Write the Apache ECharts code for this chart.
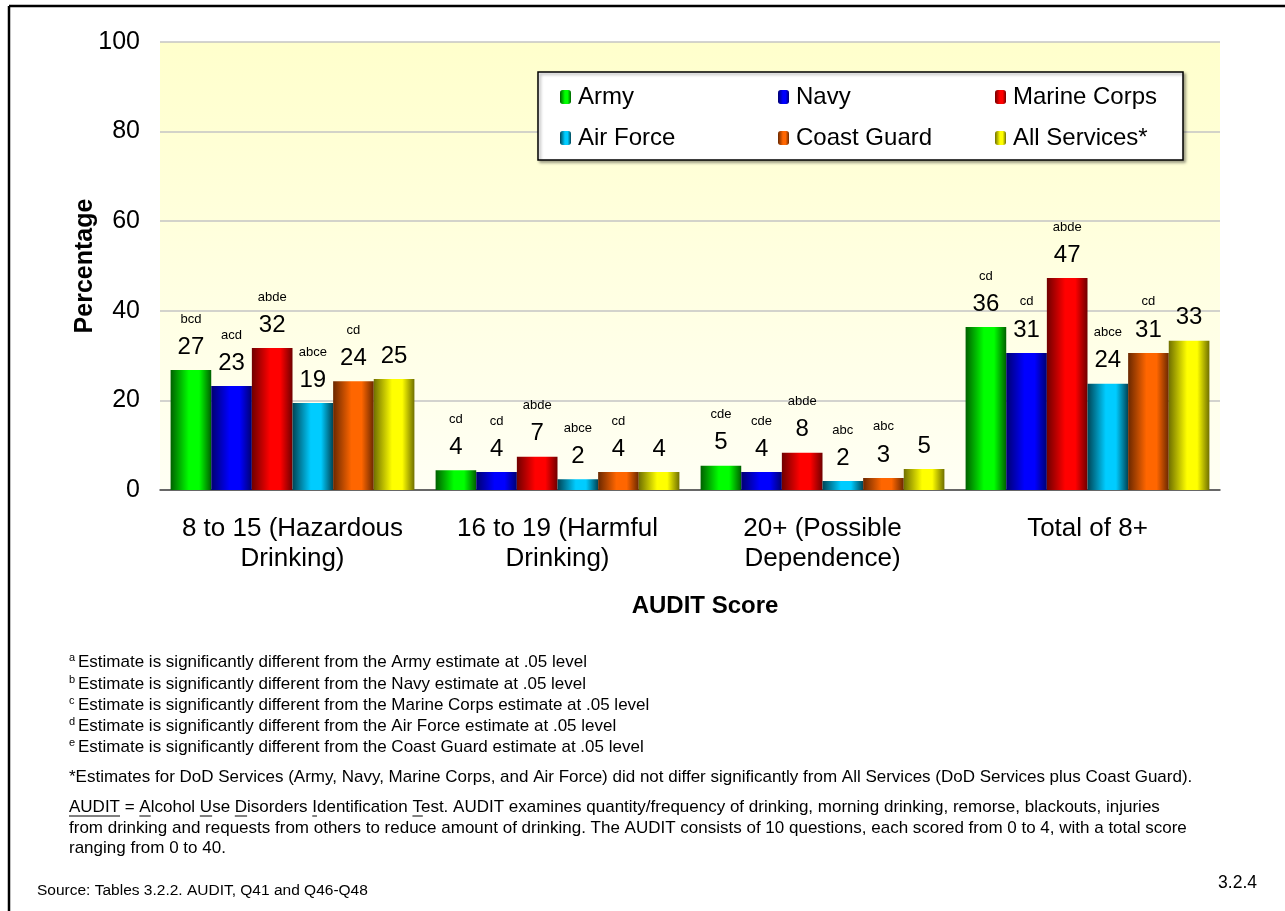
<!DOCTYPE html>
<html>
<head>
<meta charset="utf-8">
<script src="https://cdn.jsdelivr.net/npm/echarts@6/dist/echarts.min.js"></script>
<style>
  html, body { margin: 0; padding: 0; background: #fff; }
  #chart { width: 1285px; height: 911px; }
</style>
</head>
<body>
<div id="chart"></div>
<script>
// categories on the x axis
var categories = ['8 to 15 (Hazardous\nDrinking)', '16 to 19 (Harmful\nDrinking)', '20+ (Possible\nDependence)', 'Total of 8+']
var seriesNames = ['Army', 'Navy', 'Marine Corps', 'Air Force', 'Coast Guard', 'All Services*']

// percentages
var army = [26.8, 4.4, 5.4, 36.4]
var navy = [23.2, 4.0, 4.0, 30.6]
var marine = [31.7, 7.4, 8.3, 47.3]
var airForce = [19.4, 2.4, 2.0, 23.7]
var coastGuard = [24.3, 4.0, 2.7, 30.6]
var allServices = [24.8, 4.0, 4.7, 33.3]

// significance letters above each bar
var armyLetters = ['bcd', 'cd', 'cde', 'cd']
var navyLetters = ['acd', 'cd', 'cde', 'cd']
var marineLetters = ['abde', 'abde', 'abde', 'abde']
var airForceLetters = ['abce', 'abce', 'abc', 'abce']
var coastGuardLetters = ['cd', 'cd', 'abc', 'cd']
var allLetters = ['', '', '', '']

var yTicks = [0, 20, 40, 60, 80, 100]

var allValues = [army, navy, marine, airForce, coastGuard, allServices]
var allLetterSets = [armyLetters, navyLetters, marineLetters, airForceLetters, coastGuardLetters, allLetters]

// dark edge / bright centre of each bar
var palette = [
    ['#006000', '#00ff00'],
    ['#000070', '#0000ff'],
    ['#700000', '#ff0000'],
    ['#004455', '#00ccff'],
    ['#6a2800', '#ff6600'],
    ['#707000', '#ffff00']
]

var FONT = "'Liberation Sans', Arial, sans-serif"

function barFill(c) {
    return new echarts.graphic.LinearGradient(0, 0, 1, 0, [
        { offset: 0, color: c[0] },
        { offset: 0.45, color: c[1] },
        { offset: 0.7, color: c[1] },
        { offset: 1, color: c[0] }
    ])
}

var series = seriesNames.map(function (name, i) {
    return {
        name: name,
        type: 'bar',
        barGap: 0,
        barCategoryGap: '8%',
        data: allValues[i],
        itemStyle: { color: barFill(palette[i]) },
        label: {
            show: true,
            position: 'top',
            distance: 10,
            fontFamily: FONT,
            formatter: function (p) {
                var l = allLetterSets[i][p.dataIndex]
                var n = Math.round(p.value)
                return l ? '{s|' + l + '}\n{v|' + n + '}' : '{v|' + n + '}'
            },
            rich: {
                s: { fontSize: 13, lineHeight: 30, color: '#000', fontFamily: FONT },
                v: { fontSize: 24, lineHeight: 26, color: '#000', fontFamily: FONT }
            }
        }
    }
})

// legend laid out as a 3 x 2 table inside a boxed area
var legendCols = [560, 778, 995]
var legendRows = [85, 126]
var legends = seriesNames.map(function (name, i) {
    return {
        data: [name],
        left: legendCols[i % 3],
        top: legendRows[Math.floor(i / 3)],
        padding: 0,
        itemWidth: 11,
        itemHeight: 14,
        itemGap: 0,
        textStyle: { fontSize: 24, color: '#000', fontFamily: FONT, padding: [0, 0, 0, 2] },
        selectedMode: false
    }
})

// footnotes
var noteSize = 17
var notes = [
    { sup: 'a', y: 662, text: 'Estimate is significantly different from the Army estimate at .05 level' },
    { sup: 'b', y: 684, text: 'Estimate is significantly different from the Navy estimate at .05 level' },
    { sup: 'c', y: 705, text: 'Estimate is significantly different from the Marine Corps estimate at .05 level' },
    { sup: 'd', y: 726, text: 'Estimate is significantly different from the Air Force estimate at .05 level' },
    { sup: 'e', y: 747, text: 'Estimate is significantly different from the Coast Guard estimate at .05 level' }
]
var plainNotes = [
    { y: 777, text: '*Estimates for DoD Services (Army, Navy, Marine Corps, and Air Force) did not differ significantly from All Services (DoD Services plus Coast Guard).' },
    { y: 807, text: 'AUDIT = Alcohol Use Disorders Identification Test. AUDIT examines quantity/frequency of drinking, morning drinking, remorse, blackouts, injuries' },
    { y: 828, text: 'from drinking and requests from others to reduce amount of drinking. The AUDIT consists of 10 questions, each scored from 0 to 4, with a total score' },
    { y: 848, text: 'ranging from 0 to 40.' }
]

var graphics = [
    { type: 'line', shape: { x1: 9, y1: 6, x2: 1285, y2: 6 }, style: { stroke: '#000', lineWidth: 2.5 } },
    { type: 'line', shape: { x1: 9, y1: 6, x2: 9, y2: 911 }, style: { stroke: '#000', lineWidth: 2.5 } },
    {
        type: 'rect', z: 3,
        shape: { x: 538, y: 72, width: 645, height: 88 },
        style: { fill: '#fff', stroke: '#000', lineWidth: 1.5, shadowBlur: 3, shadowOffsetX: 2, shadowOffsetY: 2, shadowColor: 'rgba(0,0,0,0.35)' }
    }
]

notes.forEach(function (n) {
    graphics.push({ type: 'text', x: 69, y: n.y - 4, style: { text: n.sup, fontSize: 11, fontFamily: FONT, fill: '#000', verticalAlign: 'middle' } })
    graphics.push({ type: 'text', x: 78, y: n.y, style: { text: n.text, fontSize: noteSize, fontFamily: FONT, fill: '#000', verticalAlign: 'middle' } })
})
plainNotes.forEach(function (n) {
    graphics.push({ type: 'text', x: 69, y: n.y, style: { text: n.text, fontSize: noteSize, fontFamily: FONT, fill: '#000', verticalAlign: 'middle' } })
})
graphics.push({ type: 'text', x: 37, y: 891, style: { text: 'Source: Tables 3.2.2. AUDIT, Q41 and Q46-Q48', fontSize: 15.5, fontFamily: FONT, fill: '#000', verticalAlign: 'middle' } })
graphics.push({ type: 'text', x: 1257, y: 883, style: { text: '3.2.4', fontSize: 17.5, fontFamily: FONT, fill: '#000', align: 'right', verticalAlign: 'middle' } })

// underlines for the AUDIT acronym
var ctx = document.createElement('canvas').getContext('2d')
ctx.font = noteSize + 'px ' + FONT
var auditLine = plainNotes[1].text
var underlineParts = [['AUDIT', 0], ['A', auditLine.indexOf('Alcohol')], ['U', auditLine.indexOf('Use')],
    ['D', auditLine.indexOf('Disorders')], ['I', auditLine.indexOf('Identification')], ['T', auditLine.indexOf('Test')]]
underlineParts.forEach(function (u) {
    var x0 = 69 + ctx.measureText(auditLine.slice(0, u[1])).width
    var w = ctx.measureText(u[0]).width
    var y = plainNotes[1].y + 9
    graphics.push({ type: 'line', shape: { x1: x0, y1: y, x2: x0 + w, y2: y }, style: { stroke: '#000', lineWidth: 1 } })
})

var chart = echarts.init(document.getElementById('chart'))
chart.setOption({
    animation: false,
    backgroundColor: '#fff',
    textStyle: { fontFamily: FONT },
    grid: {
        left: 160, right: 65, top: 42, bottom: 421,
        show: true,
        borderWidth: 0,
        backgroundColor: new echarts.graphic.LinearGradient(0, 0, 0, 1, [
            { offset: 0, color: '#ffffcc' },
            { offset: 1, color: '#fffff4' }
        ])
    },
    legend: legends,
    xAxis: {
        type: 'category',
        data: categories,
        name: 'AUDIT Score',
        nameLocation: 'middle',
        nameGap: 104,
        nameMoveOverlap: false,
        nameTextStyle: { fontSize: 24, fontWeight: 'bold', color: '#000', fontFamily: FONT, padding: [0, 0, 0, 30] },
        axisLine: { lineStyle: { color: '#444', width: 1.5 } },
        axisTick: { length: 8, lineStyle: { color: '#444', width: 1.5 } },
        axisLabel: { fontSize: 26, lineHeight: 30, margin: 24, color: '#000', fontFamily: FONT, interval: 0 }
    },
    yAxis: {
        type: 'value',
        min: yTicks[0],
        max: yTicks[yTicks.length - 1],
        interval: yTicks[1] - yTicks[0],
        name: 'Percentage',
        nameLocation: 'middle',
        nameGap: 62,
        nameMoveOverlap: false,
        nameTextStyle: { fontSize: 25, fontWeight: 'bold', color: '#000', fontFamily: FONT },
        axisLine: { show: false },
        axisTick: { show: false },
        axisLabel: { fontSize: 25, margin: 20, color: '#000', fontFamily: FONT },
        splitLine: { lineStyle: { color: '#c4c4c4', width: 1.5 } }
    },
    series: series,
    graphic: graphics
})
</script>
</body>
</html>
